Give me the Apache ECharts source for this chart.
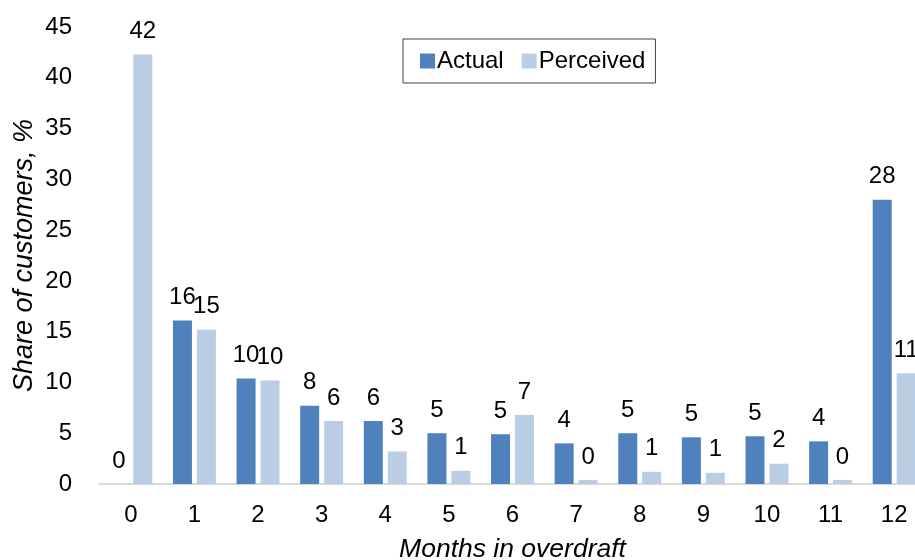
<!DOCTYPE html>
<html>
<head>
<meta charset="utf-8">
<script src="https://cdn.jsdelivr.net/npm/echarts@6/dist/echarts.min.js"></script>
<style>
  html, body { margin: 0; padding: 0; background: #fff; }
  #chart { width: 915px; height: 560px; }
</style>
</head>
<body>
<div id="chart"></div>
<script>
// Months spent in overdraft over the year
const months = ['0', '1', '2', '3', '4', '5', '6', '7', '8', '9', '10', '11', '12'];
// Share of customers (%) by actual months in overdraft
const actual = [0, 16.1, 10.4, 7.7, 6.2, 5.0, 4.9, 4.0, 5.0, 4.6, 4.7, 4.2, 28.0];
// Share of customers (%) by perceived months in overdraft
const perceived = [42.3, 15.2, 10.2, 6.2, 3.2, 1.3, 6.8, 0.4, 1.2, 1.1, 2.0, 0.4, 10.9];

const FONT = '"Liberation Sans", Arial, sans-serif';

const chart = echarts.init(document.getElementById('chart'), null, { renderer: 'canvas' });

const valueLabel = {
  show: true,
  position: 'top',
  distance: 11,
  color: '#000',
  fontFamily: FONT,
  fontSize: 24,
  formatter: p => String(Math.round(p.value))
};

chart.setOption({
  animation: false,
  backgroundColor: '#fff',
  textStyle: { fontFamily: FONT },
  // plot area runs past the right edge of the canvas, so the last group is cut
  grid: { left: 99, width: 827, top: 27, bottom: 76, containLabel: false, outerBoundsMode: 'none' },
  legend: {
    left: 403,
    top: 39,
    padding: [10, 10, 10, 17],
    itemWidth: 15,
    itemHeight: 15,
    itemGap: 18,
    borderColor: '#404040',
    borderWidth: 1,
    backgroundColor: '#fff',
    icon: 'rect',
    textStyle: { fontFamily: FONT, fontSize: 24, color: '#000', padding: [0, 0, 0, -3] },
    data: ['Actual', 'Perceived']
  },
  xAxis: {
    type: 'category',
    data: months,
    name: 'Months in overdraft',
    nameLocation: 'middle',
    nameGap: 52,
    nameTextStyle: { fontFamily: FONT, fontSize: 26.5, fontStyle: 'italic', color: '#000' },
    axisLine: { lineStyle: { color: '#d9d9d9', width: 2 } },
    axisTick: { show: false },
    axisLabel: { color: '#000', fontSize: 24, fontFamily: FONT, margin: 19 }
  },
  yAxis: {
    type: 'value',
    min: 0,
    max: 45,
    interval: 5,
    name: 'Share of customers, %',
    nameLocation: 'middle',
    nameGap: 61,
    nameMoveOverlap: false,
    nameTextStyle: { fontFamily: FONT, fontSize: 27, fontStyle: 'italic', color: '#000' },
    axisLine: { show: false },
    axisTick: { show: false },
    splitLine: { show: false },
    axisLabel: { color: '#000', fontSize: 24, fontFamily: FONT, margin: 27 }
  },
  series: [
    {
      name: 'Actual',
      type: 'bar',
      data: actual,
      barWidth: 19,
      barGap: '26%',
      itemStyle: { color: '#4f81bd' },
      label: valueLabel
    },
    {
      name: 'Perceived',
      type: 'bar',
      data: perceived,
      barWidth: 19,
      barGap: '26%',
      itemStyle: { color: '#b9cde5' },
      label: valueLabel
    }
  ]
});
</script>
</body>
</html>
